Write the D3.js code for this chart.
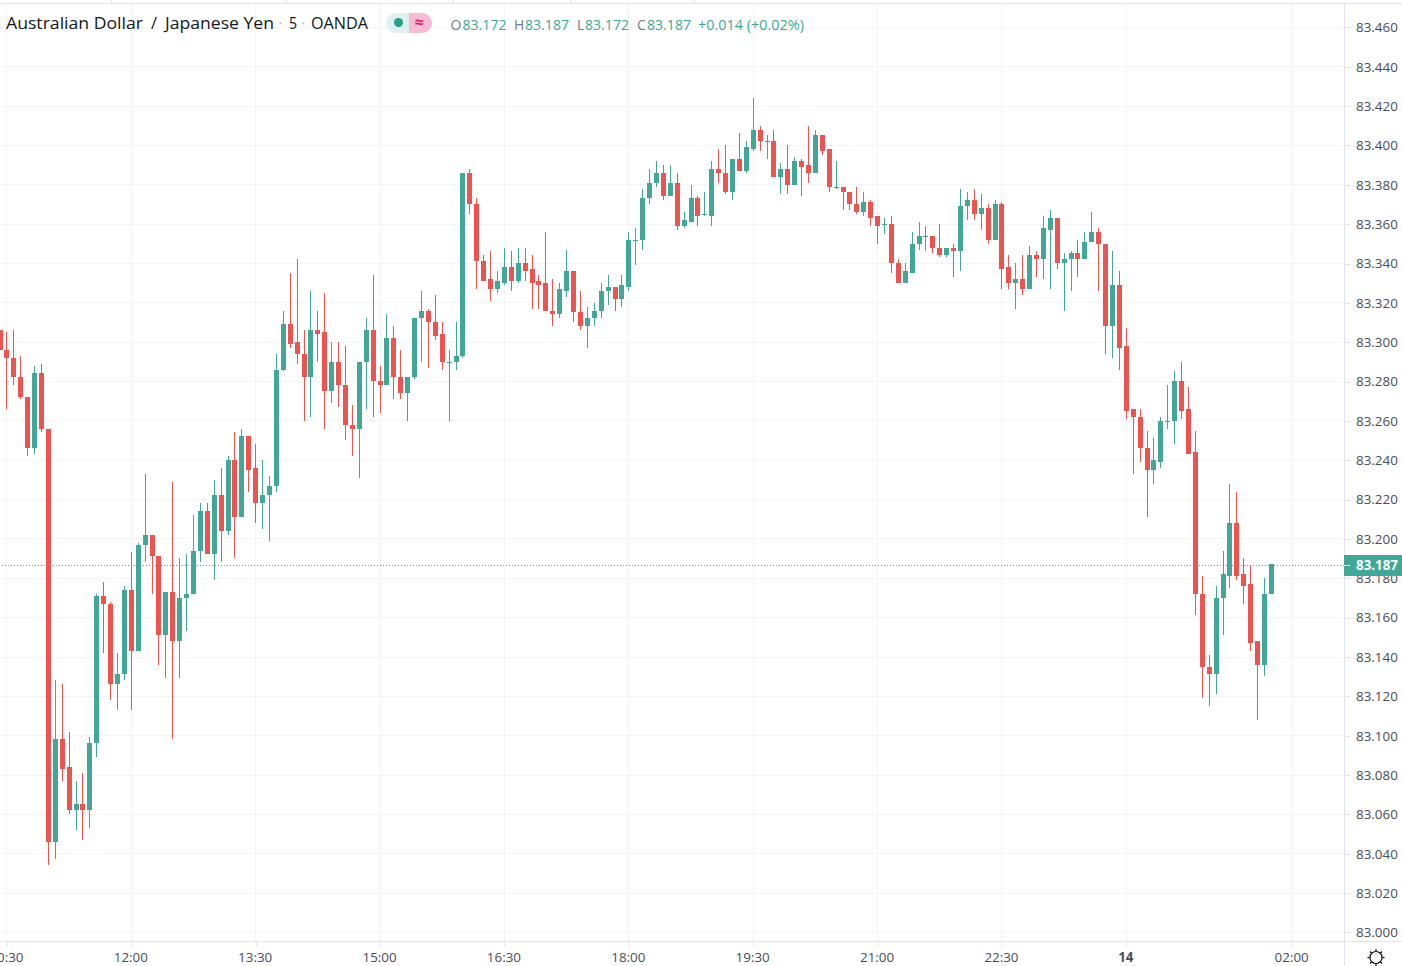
<!DOCTYPE html>
<html>
<head>
<meta charset="utf-8">
<script src="https://d3js.org/d3.v7.min.js"></script>
<style>
html,body{margin:0;padding:0;background:#fff;overflow:hidden}
svg{display:block}
text{font-family:"Open Sans",sans-serif}
</style>
</head>
<body>
<svg id="c" width="1402" height="966"></svg>
<script>
// bar number counted from the 12:00 bar (5-minute bars)
const firstBar = -19;
const opens = [
83.306,83.296,83.292,83.282,83.272,83.246,83.284,83.256,83.046,83.098,83.084,83.062,83.065,83.062,83.096,83.171,83.167,83.126,83.131,
83.174,83.143,83.197,83.202,83.191,83.151,83.173,83.148,83.170,83.172,
83.194,83.214,83.192,83.222,83.204,83.240,83.211,83.252,83.236,83.218,
83.222,83.227,83.286,83.309,83.300,83.294,83.282,83.306,83.305,83.275,
83.290,83.278,83.258,83.256,83.290,83.306,83.280,83.278,83.302,83.282,
83.274,83.282,83.312,83.316,83.310,83.304,83.290,83.290,83.293,83.386,
83.370,83.341,83.332,83.327,83.330,83.338,83.331,83.340,83.337,83.331,
83.330,83.316,83.314,83.326,83.336,83.315,83.308,83.312,83.316,83.326,
83.328,83.322,83.328,83.352,83.352,83.373,83.381,83.386,83.374,83.381,
83.359,83.361,83.373,83.365,83.364,83.388,83.386,83.376,83.393,83.387,
83.398,83.408,83.402,83.402,83.384,83.388,83.380,83.392,83.390,83.386,
83.405,83.398,83.379,83.379,83.376,83.370,83.366,83.371,83.364,83.360,
83.360,83.340,83.330,83.335,83.350,83.354,83.354,83.348,83.344,83.348,
83.346,83.369,83.372,83.365,83.368,83.352,83.370,83.338,83.330,83.332,
83.327,83.344,83.342,83.357,83.363,83.340,83.342,83.345,83.342,83.351,
83.356,83.350,83.308,83.329,83.298,83.266,83.262,83.246,83.235,83.239,
83.260,83.260,83.280,83.266,83.244,83.172,83.135,83.131,83.170,83.181,
83.208,83.182,83.177,83.148,83.136,83.172];
const highs = [
83.306,83.305,83.306,83.293,83.272,83.288,83.289,83.256,83.128,83.126,83.102,83.077,83.081,83.099,83.172,83.178,83.168,83.142,83.176,
83.193,83.198,83.233,83.202,83.191,83.173,83.229,83.190,83.192,83.212,
83.218,83.218,83.230,83.236,83.242,83.254,83.256,83.252,83.248,83.240,
83.232,83.294,83.316,83.335,83.342,83.306,83.326,83.316,83.325,83.300,
83.300,83.298,83.268,83.290,83.312,83.334,83.288,83.314,83.308,83.296,
83.282,83.312,83.326,83.317,83.324,83.310,83.296,83.310,83.386,83.388,
83.373,83.344,83.346,83.336,83.348,83.346,83.348,83.348,83.344,83.334,
83.356,83.332,83.330,83.347,83.336,83.326,83.318,83.320,83.330,83.334,
83.328,83.334,83.356,83.358,83.378,83.388,83.392,83.390,83.390,83.386,
83.366,83.380,83.374,83.376,83.392,83.398,83.400,83.393,83.406,83.402,
83.424,83.410,83.405,83.408,83.391,83.400,83.394,83.393,83.410,83.408,
83.405,83.398,83.392,83.379,83.376,83.379,83.376,83.372,83.364,83.363,
83.364,83.342,83.340,83.356,83.361,83.359,83.354,83.360,83.348,83.350,
83.378,83.376,83.378,83.375,83.370,83.372,83.371,83.344,83.340,83.344,
83.349,83.346,83.364,83.367,83.363,83.345,83.346,83.352,83.356,83.366,
83.358,83.350,83.346,83.336,83.307,83.266,83.266,83.255,83.251,83.262,
83.278,83.285,83.290,83.277,83.255,83.181,83.141,83.176,83.194,83.228,
83.224,83.190,83.186,83.148,83.180,83.187];
const lows = [
83.296,83.266,83.278,83.271,83.242,83.243,83.254,83.034,83.037,83.077,83.060,83.052,83.047,83.053,83.089,83.142,83.118,83.113,83.128,
83.113,83.143,83.188,83.172,83.136,83.129,83.098,83.129,83.153,83.172,
83.188,83.192,83.179,83.188,83.202,83.190,83.211,83.224,83.208,83.205,
83.199,83.224,83.285,83.297,83.289,83.260,83.262,83.290,83.256,83.269,
83.267,83.250,83.242,83.231,83.266,83.262,83.264,83.278,83.271,83.271,
83.260,83.281,83.290,83.287,83.301,83.286,83.260,83.286,83.292,83.365,
83.327,83.331,83.321,83.325,83.329,83.326,83.330,83.331,83.317,83.317,
83.316,83.308,83.312,83.323,83.310,83.306,83.297,83.308,83.312,83.319,
83.316,83.318,83.326,83.339,83.347,83.370,83.379,83.372,83.374,83.357,
83.358,83.361,83.359,83.364,83.359,83.381,83.375,83.372,83.387,83.386,
83.397,83.397,83.393,83.384,83.375,83.375,83.380,83.374,83.381,83.386,
83.395,83.376,83.378,83.367,83.367,83.365,83.364,83.359,83.350,83.355,
83.335,83.330,83.330,83.335,83.347,83.346,83.345,83.343,83.343,83.333,
83.336,83.362,83.362,83.357,83.350,83.352,83.327,83.327,83.317,83.324,
83.327,83.333,83.332,83.327,83.337,83.316,83.326,83.333,83.342,83.351,
83.326,83.294,83.292,83.286,83.261,83.233,83.239,83.211,83.228,83.236,
83.256,83.248,83.261,83.243,83.161,83.119,83.115,83.121,83.151,83.175,
83.179,83.167,83.143,83.108,83.130,83.172];
const closes = [
83.296,83.292,83.282,83.272,83.246,83.284,83.256,83.046,83.098,83.083,83.062,83.065,83.062,83.096,83.171,83.167,83.126,83.131,83.174,
83.143,83.197,83.202,83.191,83.151,83.173,83.148,83.170,83.172,83.194,
83.214,83.192,83.222,83.204,83.240,83.211,83.252,83.235,83.218,83.222,
83.227,83.286,83.309,83.299,83.294,83.282,83.306,83.304,83.275,83.290,
83.278,83.258,83.256,83.290,83.306,83.280,83.278,83.302,83.282,83.274,
83.282,83.312,83.316,83.310,83.303,83.290,83.290,83.293,83.386,83.370,
83.341,83.331,83.327,83.331,83.338,83.331,83.340,83.336,83.330,83.329,
83.316,83.314,83.327,83.336,83.315,83.308,83.312,83.316,83.326,83.328,
83.322,83.329,83.352,83.352,83.373,83.381,83.386,83.374,83.381,83.359,
83.362,83.373,83.364,83.365,83.388,83.386,83.376,83.393,83.387,83.399,
83.408,83.402,83.402,83.384,83.388,83.380,83.392,83.389,83.386,83.405,
83.397,83.379,83.379,83.376,83.370,83.366,83.371,83.363,83.359,83.360,
83.340,83.330,83.336,83.350,83.354,83.354,83.348,83.344,83.348,83.346,
83.369,83.372,83.365,83.368,83.352,83.370,83.337,83.330,83.332,83.327,
83.344,83.342,83.358,83.363,83.340,83.342,83.345,83.342,83.351,83.356,
83.350,83.308,83.329,83.297,83.265,83.262,83.246,83.235,83.240,83.260,
83.260,83.280,83.265,83.243,83.172,83.135,83.131,83.170,83.182,83.208,
83.181,83.176,83.147,83.136,83.172,83.187];

const priceTicks = [83.000,83.020,83.040,83.060,83.080,83.100,83.120,83.140,83.160,83.180,83.200,83.220,83.240,83.260,83.280,83.300,83.320,83.340,83.360,83.380,83.400,83.420,83.440,83.460];
const timeTickBars = [-18,0,18,36,54,72,90,108,126,144,168];
const timeTickLabels = ["10:30","12:00","13:30","15:00","16:30","18:00","19:30","21:00","22:30","14","02:00"];
const tabMarks = [111,286,453,570,694];
const lastPrice = 83.187;
const ohlcLetters = ["O","H","L","C"];
const ohlcValues = ["83.172","83.187","83.172","83.187"];
const changeText = "+0.014 (+0.02%)";

const UP = "#42a797", DOWN = "#eb544f", GRID = "#f2f3f5", LINE = "#e0e3eb", TXT = "#4a4d58";
const svg = d3.select("#c");
const x = d3.scaleLinear().domain([0,165]).range([131.3,1271.45]);
const y = d3.scaleLinear().domain([83.0,83.46]).range([932.45,27.45]);
const py = v=>Math.round(y(v)-0.25);   // pixel row of a candle edge
const axisX = 1344.5, axisY = 941.5;

// grid
const g = svg.append("g").attr("shape-rendering","crispEdges");
g.selectAll(".h").data(priceTicks).join("line").attr("x1",0).attr("x2",axisX)
  .attr("y1",d=>Math.floor(y(d))+.5).attr("y2",d=>Math.floor(y(d))+.5).attr("stroke",GRID);
g.selectAll(".v").data(timeTickBars).join("line").attr("y1",3).attr("y2",axisY)
  .attr("x1",d=>Math.floor(x(d))+.5).attr("x2",d=>Math.floor(x(d))+.5).attr("stroke",GRID);

// top strip
g.append("line").attr("x1",0).attr("x2",1402).attr("y1",3.5).attr("y2",3.5).attr("stroke",LINE);
g.selectAll(".tab").data(tabMarks).join("line").attr("x1",d=>d+.5).attr("x2",d=>d+.5).attr("y1",0).attr("y2",3).attr("stroke",LINE);

// candles
const bars = d3.range(opens.length).map(i=>({k:firstBar+i,o:opens[i],h:highs[i],l:lows[i],c:closes[i]}));
const col = d=>d.c>=d.o?UP:DOWN;
const cg = svg.append("g").attr("shape-rendering","crispEdges");
cg.selectAll(".w").data(bars).join("rect")
  .attr("x",d=>Math.floor(x(d.k))).attr("width",1)
  .attr("y",d=>py(d.h)).attr("height",d=>Math.max(1,py(d.l)-py(d.h)))
  .attr("fill",col);
cg.selectAll(".b").data(bars).join("rect")
  .attr("x",d=>Math.floor(x(d.k))-2).attr("width",5)
  .attr("y",d=>py(Math.max(d.o,d.c)))
  .attr("height",d=>Math.max(1,py(Math.min(d.o,d.c))-py(Math.max(d.o,d.c))))
  .attr("fill",col);

// last price line
const lastRow = Math.round(y(lastPrice)+0.1);
svg.append("line").attr("x1",2).attr("x2",axisX).attr("y1",lastRow+.5).attr("y2",lastRow+.5)
  .attr("stroke",UP).attr("stroke-dasharray","1 2").attr("shape-rendering","crispEdges");

const yAxis = d3.axisRight(y).tickValues(priceTicks).tickFormat(d3.format(".3f")).tickSize(5).tickPadding(7);
const ya = svg.append("g").attr("transform",`translate(${axisX},0)`).call(yAxis);
ya.select(".domain").attr("stroke",LINE).attr("d","M0,4V966");
ya.selectAll("line").attr("stroke",LINE).attr("shape-rendering","crispEdges");
ya.selectAll("text").attr("fill",TXT).attr("font-family",'"Open Sans",sans-serif').attr("font-size",13.4).attr("x",11.5);

const xAxis = d3.axisBottom(x).tickValues(timeTickBars).tickFormat((d,i)=>timeTickLabels[i]).tickSize(4).tickPadding(7);
const xa = svg.append("g").attr("transform",`translate(0,${axisY})`).call(xAxis);
xa.select(".domain").attr("stroke",LINE).attr("d","M0,0H1402");
xa.selectAll("line").attr("stroke",LINE).attr("shape-rendering","crispEdges");
xa.selectAll("text").attr("fill",TXT).attr("font-family",'"Open Sans",sans-serif').attr("font-size",13.4).attr("x",-1)
  .attr("font-weight",d=>d===144?700:400);

// last price tag
svg.append("rect").attr("x",1344).attr("y",lastRow-10).attr("width",58).attr("height",21).attr("fill",UP);
svg.append("line").attr("x1",1344).attr("x2",1350).attr("y1",lastRow+.5).attr("y2",lastRow+.5).attr("stroke","#fff").attr("shape-rendering","crispEdges");
svg.append("text").attr("x",1356).attr("y",lastRow+5).attr("fill","#fff").attr("font-size",13.4).attr("font-weight",700).attr("textLength",42).attr("lengthAdjust","spacingAndGlyphs").text(d3.format(".3f")(lastPrice));

// header
const hdr = svg.append("g").attr("font-size",16).attr("fill","#131722");
[["Australian Dollar",6,137],["/",151,6],["Japanese Yen",165,109],["5",289,8],["OANDA",311,57]].forEach(([t,px,w])=>{
  hdr.append("text").attr("x",px).attr("y",29).attr("textLength",w).attr("lengthAdjust","spacingAndGlyphs").text(t);
});
[280.5,303.5].forEach(px=>hdr.append("circle").attr("cx",px).attr("cy",23.5).attr("r",1).attr("fill","#b2b5be"));

// status pill
svg.append("path").attr("d","M409,13H396a10,10 0 0 0 0,20H409Z").attr("fill","#e0f2ef");
svg.append("path").attr("d","M409,13H422a10,10 0 0 1 0,20H409Z").attr("fill","#f7bbd3");
svg.append("circle").attr("cx",398.5).attr("cy",22.5).attr("r",4.5).attr("fill","#2a9d8c");
svg.append("text").attr("x",419).attr("y",28).attr("text-anchor","middle").attr("font-size",16).attr("font-weight",700).attr("fill","#d81b70").text("≈");

// OHLC legend
const lx = [450.5,514,577,637], vx = [462.5,525,585,647];
ohlcLetters.forEach((l,i)=>{
  svg.append("text").attr("x",lx[i]).attr("y",30).attr("font-size",14).attr("fill","#787b86").text(l);
  svg.append("text").attr("x",vx[i]).attr("y",30).attr("font-size",14).attr("fill",UP).attr("textLength",44).attr("lengthAdjust","spacingAndGlyphs").text(ohlcValues[i]);
});
svg.append("text").attr("x",698).attr("y",30).attr("font-size",14).attr("fill",UP).attr("textLength",106).attr("lengthAdjust","spacingAndGlyphs").text(changeText);

// settings gear
const gear = svg.append("g").attr("transform","translate(1376,957.5)").attr("stroke","#131722").attr("fill","none");
gear.append("circle").attr("r",6).attr("stroke-width",1.2);
d3.range(8).forEach(i=>{
  const a=i*Math.PI/4;
  gear.append("line").attr("x1",6*Math.cos(a)).attr("y1",6*Math.sin(a)).attr("x2",8.5*Math.cos(a)).attr("y2",8.5*Math.sin(a)).attr("stroke-width",1.2);
});
</script>
</body>
</html>
